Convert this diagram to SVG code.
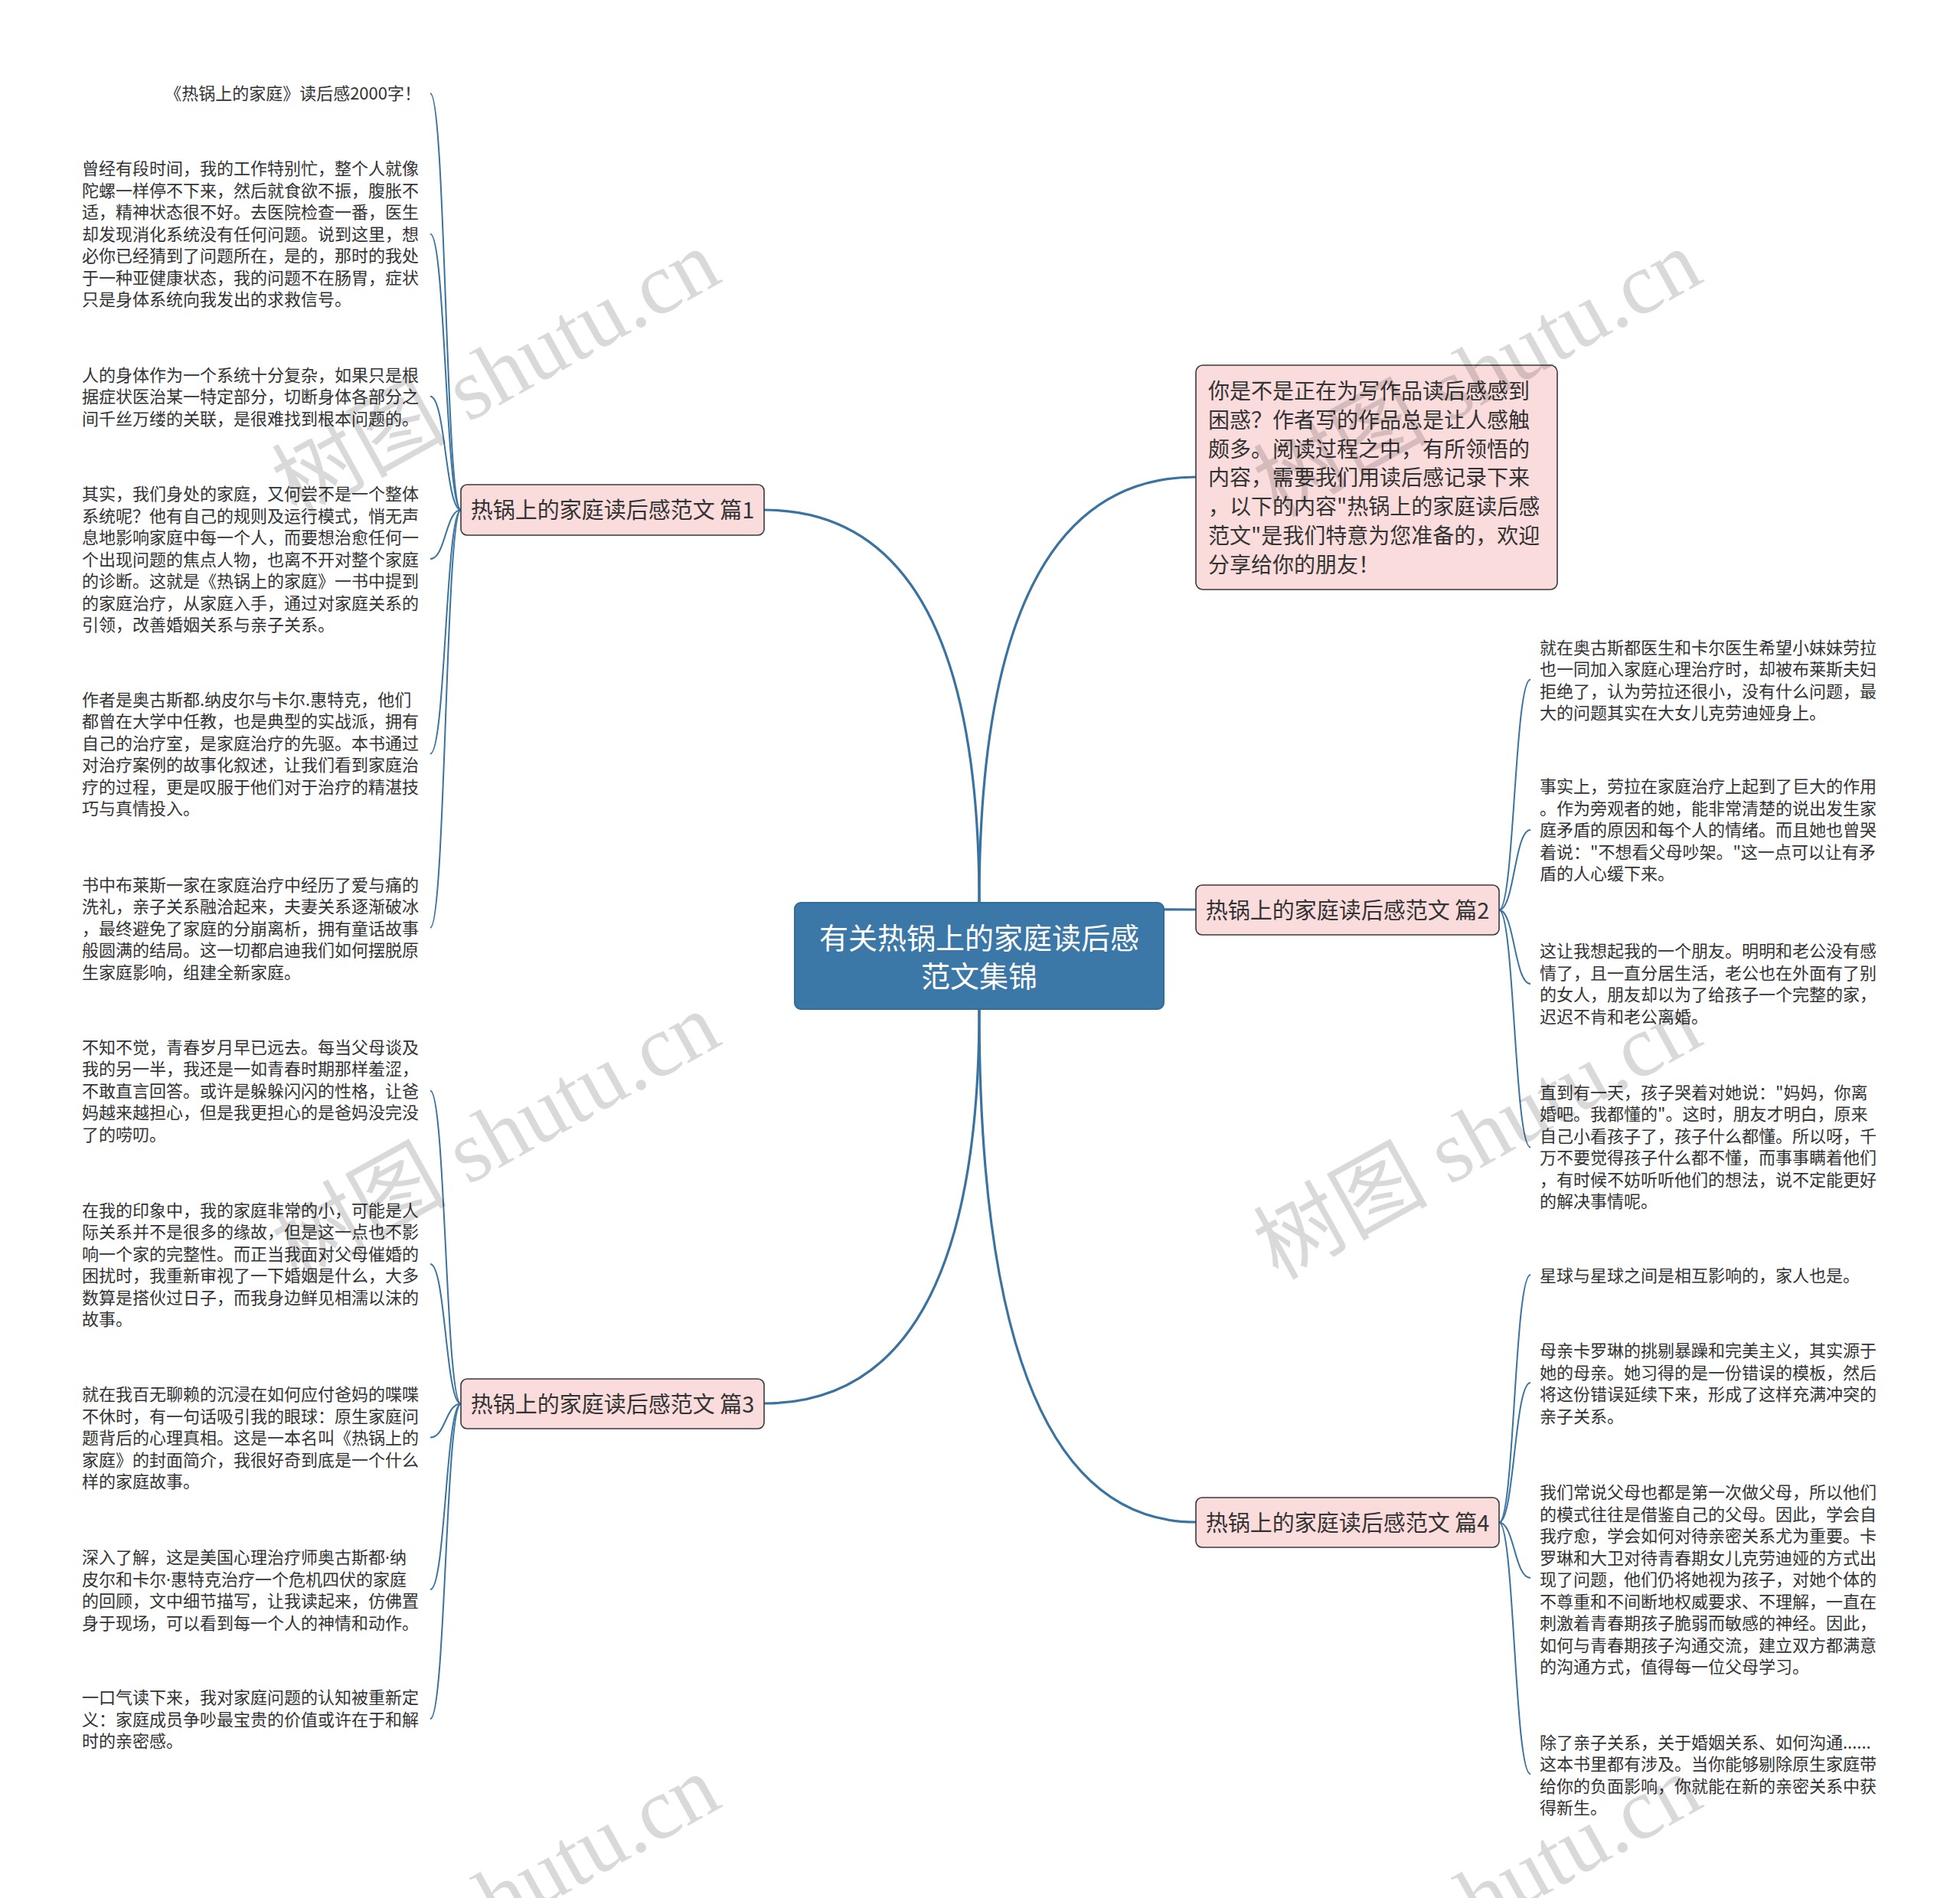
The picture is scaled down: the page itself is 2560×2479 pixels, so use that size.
<svg xmlns="http://www.w3.org/2000/svg" width="2560" height="2479" viewBox="0 0 2560 2479">
<style>
.lf{font-family:"Noto Sans CJK SC","Noto Sans",sans-serif;font-size:22px;fill:#333}
.dot{font-family:"Noto Sans",sans-serif}
.br rect{fill:#fbdcdc;stroke:#3a3a3a;stroke-width:1.6}
.br text{font-family:"Noto Sans CJK SC","Noto Sans",sans-serif;font-size:29px;fill:#333;text-anchor:middle}
.intro text{font-family:"Noto Sans CJK SC","Noto Sans",sans-serif;font-size:28px;fill:#333}
.main{fill:none;stroke:#3a739f;stroke-width:3.2}
.sub{fill:none;stroke:#3a739f;stroke-width:2}
.wm{font-family:"Liberation Serif","Noto Sans CJK SC",serif;font-size:114px;fill:#000;fill-opacity:0.15;text-anchor:middle}
</style>
<rect width="2560" height="2479" fill="#ffffff"/>
<g id="connectors">
<path class="main" d="M1279 1179 Q1279 666 998 666"/>
<path class="main" d="M1279 1179 Q1279 623 1562 623"/>
<path class="main" d="M1279 1179 Q1279 1188 1562 1188"/>
<path class="main" d="M1279 1318 Q1279 1833 998 1833"/>
<path class="main" d="M1279 1318 Q1279 1988 1562 1988"/>
<path class="sub" d="M602 666 C582 666 582 122 562 122"/>
<path class="sub" d="M602 666 C582 666 582 305.5 562 305.5"/>
<path class="sub" d="M602 666 C582 666 582 517.7 562 517.7"/>
<path class="sub" d="M602 666 C582 666 582 730 562 730"/>
<path class="sub" d="M602 666 C582 666 582 984.5 562 984.5"/>
<path class="sub" d="M602 666 C582 666 582 1211.7 562 1211.7"/>
<path class="sub" d="M602 1833.5 C582 1833.5 582 1424.5 562 1424.5"/>
<path class="sub" d="M602 1833.5 C582 1833.5 582 1651 562 1651"/>
<path class="sub" d="M602 1833.5 C582 1833.5 582 1877.5 562 1877.5"/>
<path class="sub" d="M602 1833.5 C582 1833.5 582 2076 562 2076"/>
<path class="sub" d="M602 1833.5 C582 1833.5 582 2245 562 2245"/>
<path class="sub" d="M1958 1188.5 C1978 1188.5 1978 887.5 1999 887.5"/>
<path class="sub" d="M1958 1188.5 C1978 1188.5 1978 1084 1999 1084"/>
<path class="sub" d="M1958 1188.5 C1978 1188.5 1978 1285 1999 1285"/>
<path class="sub" d="M1958 1188.5 C1978 1188.5 1978 1498.5 1999 1498.5"/>
<path class="sub" d="M1958 1988.5 C1978 1988.5 1978 1665 1999 1665"/>
<path class="sub" d="M1958 1988.5 C1978 1988.5 1978 1806 1999 1806"/>
<path class="sub" d="M1958 1988.5 C1978 1988.5 1978 2061 1999 2061"/>
<path class="sub" d="M1958 1988.5 C1978 1988.5 1978 2317 1999 2317"/>
</g>
<g id="center">
<rect x="1038" y="1179" width="482" height="139" rx="8" fill="#3b78a7" stroke="#336d99" stroke-width="2"/>
<text font-family="Noto Sans CJK SC, Noto Sans, sans-serif" font-size="38" fill="#ffffff" text-anchor="middle"><tspan x="1279" y="1239">有关热锅上的家庭读后感</tspan><tspan x="1279" y="1289">范文集锦</tspan></text>
</g>
<g id="intro" class="intro">
<rect x="1562" y="477" width="472" height="293" rx="9" fill="#fbdcdc" stroke="#3a3a3a" stroke-width="1.6"/>
<text><tspan x="1578" y="521">你是不是正在为写作品读后感感到</tspan><tspan x="1578" y="558.8">困惑？作者写的作品总是让人感触</tspan><tspan x="1578" y="596.6">颇多。阅读过程之中，有所领悟的</tspan><tspan x="1578" y="634.4">内容，需要我们用读后感记录下来</tspan><tspan x="1578" y="672.2">，以下的内容"热锅上的家庭读后感</tspan><tspan x="1578" y="710">范文"是我们特意为您准备的，欢迎</tspan><tspan x="1578" y="747.8">分享给你的朋友！</tspan></text>
</g>
<g id="branch1" class="br"><rect x="602" y="633" width="396" height="66" rx="8"/><text x="800" y="677">热锅上的家庭读后感范文 篇1</text></g>
<g id="branch2" class="br"><rect x="1562" y="1156" width="396" height="65" rx="8"/><text x="1760" y="1199.5">热锅上的家庭读后感范文 篇2</text></g>
<g id="branch3" class="br"><rect x="602" y="1801" width="396" height="65" rx="8"/><text x="800" y="1844.5">热锅上的家庭读后感范文 篇3</text></g>
<g id="branch4" class="br"><rect x="1562" y="1956" width="396" height="65" rx="8"/><text x="1760" y="1999.5">热锅上的家庭读后感范文 篇4</text></g>
<g id="leaf-l1"><text class="lf" x="550" y="130" text-anchor="end">《热锅上的家庭》读后感2000字！</text></g>
<g id="leaf-l2"><text class="lf"><tspan x="107" y="228">曾经有段时间，我的工作特别忙，整个人就像</tspan><tspan x="107" y="256.5">陀螺一样停不下来，然后就食欲不振，腹胀不</tspan><tspan x="107" y="285">适，精神状态很不好。去医院检查一番，医生</tspan><tspan x="107" y="313.5">却发现消化系统没有任何问题。说到这里，想</tspan><tspan x="107" y="342">必你已经猜到了问题所在，是的，那时的我处</tspan><tspan x="107" y="370.5">于一种亚健康状态，我的问题不在肠胃，症状</tspan><tspan x="107" y="399">只是身体系统向我发出的求救信号。</tspan></text></g>
<g id="leaf-l3"><text class="lf"><tspan x="107" y="497.5">人的身体作为一个系统十分复杂，如果只是根</tspan><tspan x="107" y="526">据症状医治某一特定部分，切断身体各部分之</tspan><tspan x="107" y="554.5">间千丝万缕的关联，是很难找到根本问题的。</tspan></text></g>
<g id="leaf-l4"><text class="lf"><tspan x="107" y="653">其实，我们身处的家庭，又何尝不是一个整体</tspan><tspan x="107" y="681.5">系统呢？他有自己的规则及运行模式，悄无声</tspan><tspan x="107" y="710">息地影响家庭中每一个人，而要想治愈任何一</tspan><tspan x="107" y="738.5">个出现问题的焦点人物，也离不开对整个家庭</tspan><tspan x="107" y="767">的诊断。这就是《热锅上的家庭》一书中提到</tspan><tspan x="107" y="795.5">的家庭治疗，从家庭入手，通过对家庭关系的</tspan><tspan x="107" y="824">引领，改善婚姻关系与亲子关系。</tspan></text></g>
<g id="leaf-l5"><text class="lf"><tspan x="107" y="921.5">作者是奥古斯都.纳皮尔与卡尔.惠特克，他们</tspan><tspan x="107" y="950">都曾在大学中任教，也是典型的实战派，拥有</tspan><tspan x="107" y="978.5">自己的治疗室，是家庭治疗的先驱。本书通过</tspan><tspan x="107" y="1007">对治疗案例的故事化叙述，让我们看到家庭治</tspan><tspan x="107" y="1035.5">疗的过程，更是叹服于他们对于治疗的精湛技</tspan><tspan x="107" y="1064">巧与真情投入。</tspan></text></g>
<g id="leaf-l6"><text class="lf"><tspan x="107" y="1163.5">书中布莱斯一家在家庭治疗中经历了爱与痛的</tspan><tspan x="107" y="1192">洗礼，亲子关系融洽起来，夫妻关系逐渐破冰</tspan><tspan x="107" y="1220.5">，最终避免了家庭的分崩离析，拥有童话故事</tspan><tspan x="107" y="1249">般圆满的结局。这一切都启迪我们如何摆脱原</tspan><tspan x="107" y="1277.5">生家庭影响，组建全新家庭。</tspan></text></g>
<g id="leaf-l7"><text class="lf"><tspan x="107" y="1375.5">不知不觉，青春岁月早已远去。每当父母谈及</tspan><tspan x="107" y="1404">我的另一半，我还是一如青春时期那样羞涩，</tspan><tspan x="107" y="1432.5">不敢直言回答。或许是躲躲闪闪的性格，让爸</tspan><tspan x="107" y="1461">妈越来越担心，但是我更担心的是爸妈没完没</tspan><tspan x="107" y="1489.5">了的唠叨。</tspan></text></g>
<g id="leaf-l8"><text class="lf"><tspan x="107" y="1588.5">在我的印象中，我的家庭非常的小，可能是人</tspan><tspan x="107" y="1617">际关系并不是很多的缘故，但是这一点也不影</tspan><tspan x="107" y="1645.5">响一个家的完整性。而正当我面对父母催婚的</tspan><tspan x="107" y="1674">困扰时，我重新审视了一下婚姻是什么，大多</tspan><tspan x="107" y="1702.5">数算是搭伙过日子，而我身边鲜见相濡以沫的</tspan><tspan x="107" y="1731">故事。</tspan></text></g>
<g id="leaf-l9"><text class="lf"><tspan x="107" y="1829">就在我百无聊赖的沉浸在如何应付爸妈的喋喋</tspan><tspan x="107" y="1857.5">不休时，有一句话吸引我的眼球：原生家庭问</tspan><tspan x="107" y="1886">题背后的心理真相。这是一本名叫《热锅上的</tspan><tspan x="107" y="1914.5">家庭》的封面简介，我很好奇到底是一个什么</tspan><tspan x="107" y="1943">样的家庭故事。</tspan></text></g>
<g id="leaf-l10"><text class="lf"><tspan x="107" y="2042">深入了解，这是美国心理治疗师奥古斯都<tspan class="dot">·</tspan>纳</tspan><tspan x="107" y="2070.5">皮尔和卡尔<tspan class="dot">·</tspan>惠特克治疗一个危机四伏的家庭</tspan><tspan x="107" y="2099">的回顾，文中细节描写，让我读起来，仿佛置</tspan><tspan x="107" y="2127.5">身于现场，可以看到每一个人的神情和动作。</tspan></text></g>
<g id="leaf-l11"><text class="lf"><tspan x="107" y="2225">一口气读下来，我对家庭问题的认知被重新定</tspan><tspan x="107" y="2253.5">义：家庭成员争吵最宝贵的价值或许在于和解</tspan><tspan x="107" y="2282">时的亲密感。</tspan></text></g>
<g id="leaf-r1"><text class="lf"><tspan x="2011" y="853.5">就在奥古斯都医生和卡尔医生希望小妹妹劳拉</tspan><tspan x="2011" y="882">也一同加入家庭心理治疗时，却被布莱斯夫妇</tspan><tspan x="2011" y="910.5">拒绝了，认为劳拉还很小，没有什么问题，最</tspan><tspan x="2011" y="939">大的问题其实在大女儿克劳迪娅身上。</tspan></text></g>
<g id="leaf-r2"><text class="lf"><tspan x="2011" y="1035">事实上，劳拉在家庭治疗上起到了巨大的作用</tspan><tspan x="2011" y="1063.5">。作为旁观者的她，能非常清楚的说出发生家</tspan><tspan x="2011" y="1092">庭矛盾的原因和每个人的情绪。而且她也曾哭</tspan><tspan x="2011" y="1120.5">着说："不想看父母吵架。"这一点可以让有矛</tspan><tspan x="2011" y="1149">盾的人心缓下来。</tspan></text></g>
<g id="leaf-r3"><text class="lf"><tspan x="2011" y="1250">这让我想起我的一个朋友。明明和老公没有感</tspan><tspan x="2011" y="1278.5">情了，且一直分居生活，老公也在外面有了别</tspan><tspan x="2011" y="1307">的女人，朋友却以为了给孩子一个完整的家，</tspan><tspan x="2011" y="1335.5">迟迟不肯和老公离婚。</tspan></text></g>
<g id="leaf-r4"><text class="lf"><tspan x="2011" y="1434.5">直到有一天，孩子哭着对她说："妈妈，你离</tspan><tspan x="2011" y="1463">婚吧。我都懂的"。这时，朋友才明白，原来</tspan><tspan x="2011" y="1491.5">自己小看孩子了，孩子什么都懂。所以呀，千</tspan><tspan x="2011" y="1520">万不要觉得孩子什么都不懂，而事事瞒着他们</tspan><tspan x="2011" y="1548.5">，有时候不妨听听他们的想法，说不定能更好</tspan><tspan x="2011" y="1577">的解决事情呢。</tspan></text></g>
<g id="leaf-r5"><text class="lf" x="2011" y="1673.5">星球与星球之间是相互影响的，家人也是。</text></g>
<g id="leaf-r6"><text class="lf"><tspan x="2011" y="1772">母亲卡罗琳的挑剔暴躁和完美主义，其实源于</tspan><tspan x="2011" y="1800.5">她的母亲。她习得的是一份错误的模板，然后</tspan><tspan x="2011" y="1829">将这份错误延续下来，形成了这样充满冲突的</tspan><tspan x="2011" y="1857.5">亲子关系。</tspan></text></g>
<g id="leaf-r7"><text class="lf"><tspan x="2011" y="1957">我们常说父母也都是第一次做父母，所以他们</tspan><tspan x="2011" y="1985.5">的模式往往是借鉴自己的父母。因此，学会自</tspan><tspan x="2011" y="2014">我疗愈，学会如何对待亲密关系尤为重要。卡</tspan><tspan x="2011" y="2042.5">罗琳和大卫对待青春期女儿克劳迪娅的方式出</tspan><tspan x="2011" y="2071">现了问题，他们仍将她视为孩子，对她个体的</tspan><tspan x="2011" y="2099.5">不尊重和不间断地权威要求、不理解，一直在</tspan><tspan x="2011" y="2128">刺激着青春期孩子脆弱而敏感的神经。因此，</tspan><tspan x="2011" y="2156.5">如何与青春期孩子沟通交流，建立双方都满意</tspan><tspan x="2011" y="2185">的沟通方式，值得每一位父母学习。</tspan></text></g>
<g id="leaf-r8"><text class="lf"><tspan x="2011" y="2283.5">除了亲子关系，关于婚姻关系、如何沟通......</tspan><tspan x="2011" y="2312">这本书里都有涉及。当你能够剔除原生家庭带</tspan><tspan x="2011" y="2340.5">给你的负面影响，你就能在新的亲密关系中获</tspan><tspan x="2011" y="2369">得新生。</tspan></text></g>
<g id="watermarks">
<text class="wm" transform="translate(649 490) rotate(-29)" x="0" y="36">树图 shutu.cn</text>
<text class="wm" transform="translate(1931 490) rotate(-29)" x="0" y="36">树图 shutu.cn</text>
<text class="wm" transform="translate(649 1486) rotate(-29)" x="0" y="36">树图 shutu.cn</text>
<text class="wm" transform="translate(1931 1486) rotate(-29)" x="0" y="36">树图 shutu.cn</text>
<text class="wm" transform="translate(649 2482) rotate(-29)" x="0" y="36">树图 shutu.cn</text>
<text class="wm" transform="translate(1931 2482) rotate(-29)" x="0" y="36">树图 shutu.cn</text>
</g>
</svg>
